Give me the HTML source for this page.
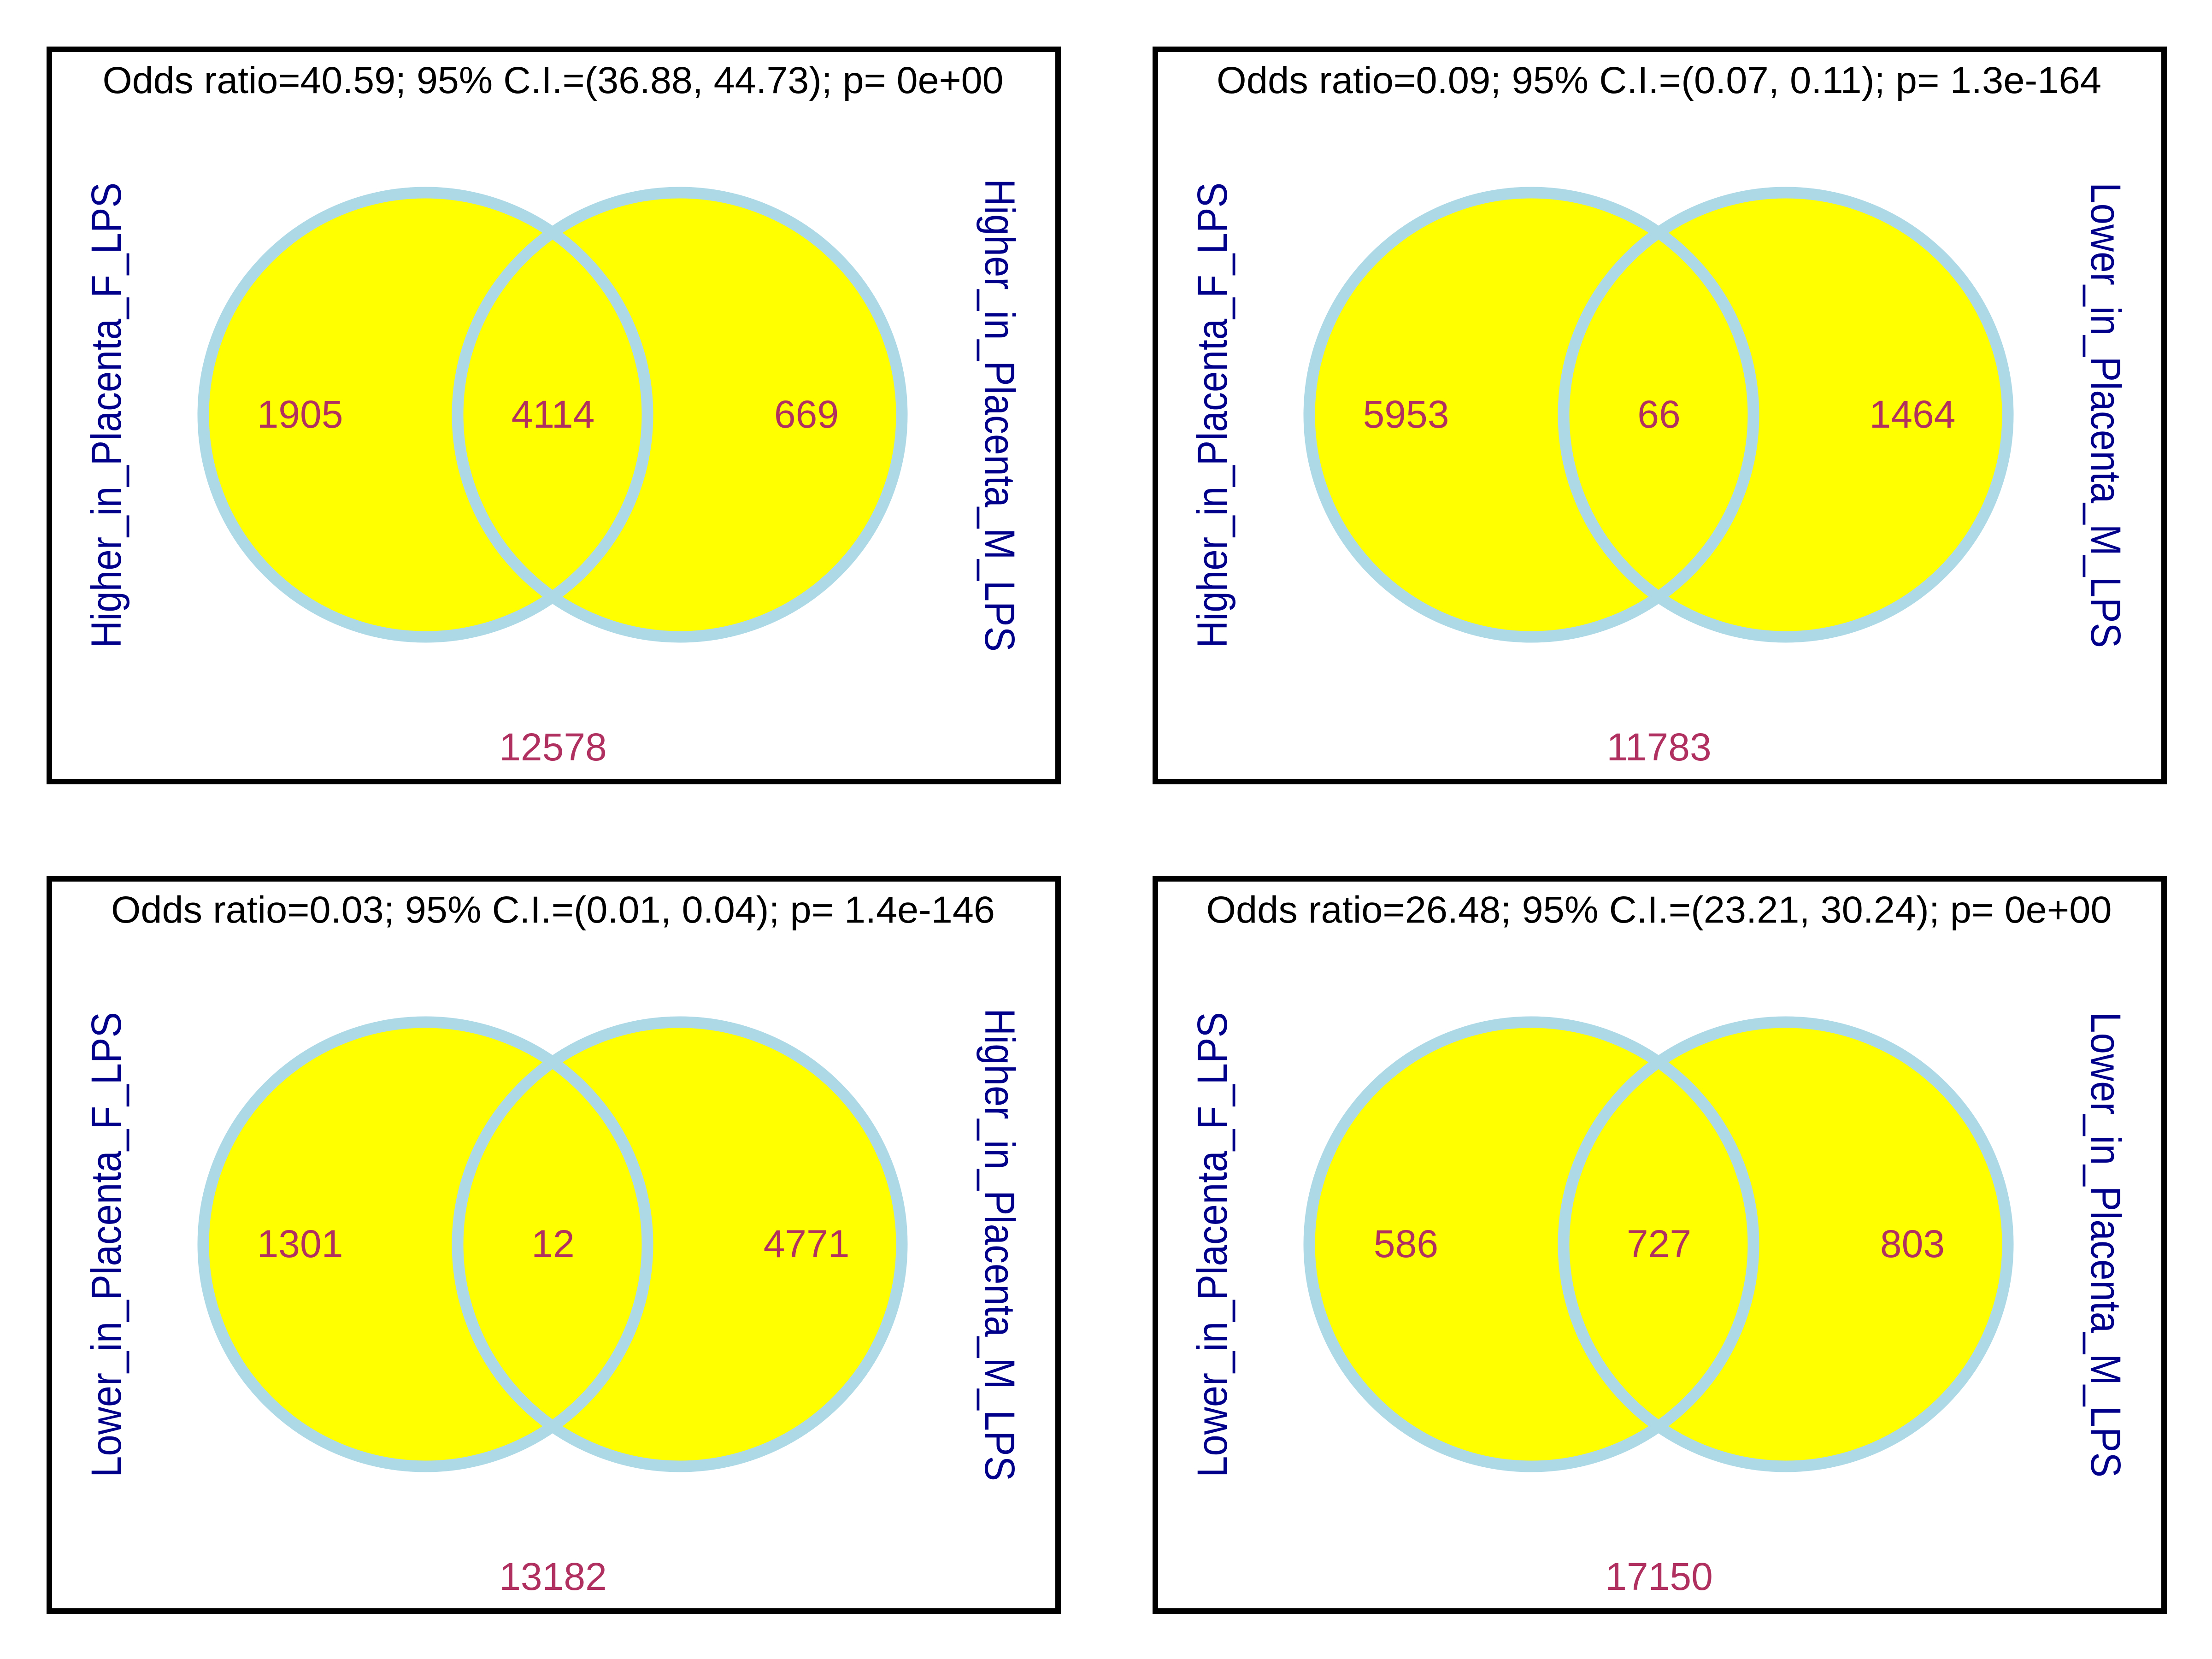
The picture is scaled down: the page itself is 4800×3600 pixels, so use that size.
<!DOCTYPE html>
<html><head><meta charset="utf-8"><style>
html,body{margin:0;padding:0;background:#fff}
svg{display:block}
text{font-family:"Liberation Sans",sans-serif}
</style></head><body>
<svg id="chart" width="4800" height="3600" viewBox="0 0 4800 3600" xmlns="http://www.w3.org/2000/svg"></svg>
<script>
const titles = [
 "Odds ratio=40.59; 95% C.I.=(36.88, 44.73); p= 0e+00",
 "Odds ratio=0.09; 95% C.I.=(0.07, 0.11); p= 1.3e-164",
 "Odds ratio=0.03; 95% C.I.=(0.01, 0.04); p= 1.4e-146",
 "Odds ratio=26.48; 95% C.I.=(23.21, 30.24); p= 0e+00"
];
const titleWidths = [1955, 1920, 1918, 1965];
const leftSets = ["Higher_in_Placenta_F_LPS","Higher_in_Placenta_F_LPS","Lower_in_Placenta_F_LPS","Lower_in_Placenta_F_LPS"];
const rightSets = ["Higher_in_Placenta_M_LPS","Lower_in_Placenta_M_LPS","Higher_in_Placenta_M_LPS","Lower_in_Placenta_M_LPS"];
const leftOnly = [1905, 5953, 1301, 586];
const overlap = [4114, 66, 12, 727];
const rightOnly = [669, 1464, 4771, 803];
const outside = [12578, 11783, 13182, 17150];

const NS = "http://www.w3.org/2000/svg";
const svg = document.getElementById('chart');
function mk(tag, attrs, parent){
  const e = document.createElementNS(NS, tag);
  for (const k in attrs) e.setAttribute(k, attrs[k]);
  parent.appendChild(e); return e;
}
titles.forEach((t, i) => {
  const ox = (i % 2) * 2400, oy = Math.floor(i / 2) * 1800;
  const g = mk('g', {transform: `translate(${ox},${oy})`}, svg);
  
  
  const box = mk('rect', {x:107, y:107, width:2189, height:1589, fill:'#fff', stroke:'#000', 'stroke-width':12}, g);
  
  
  const c1 = mk('circle', {cx:923, cy:900, r:482, fill:'#ffff00'}, g);
  
  
  const c2 = mk('circle', {cx:1475, cy:900, r:482, fill:'#ffff00'}, g);
  
  
  const s1 = mk('circle', {cx:923, cy:900, r:482, fill:'none', stroke:'#add8e6', 'stroke-width':25}, g);
  
  
  const s2 = mk('circle', {cx:1475, cy:900, r:482, fill:'none', stroke:'#add8e6', 'stroke-width':25}, g);
  
  
  const tt = mk('text', {x:1200, y:202, 'text-anchor':'middle', 'font-size':82, fill:'#000', textLength:titleWidths[i], lengthAdjust:'spacingAndGlyphs'}, g);
  tt.textContent = t;
  
  
  const lt = mk('text', {transform:'translate(262,901) rotate(-90)', 'text-anchor':'middle', 'font-size':92, fill:'#00008b', textLength:1010, lengthAdjust:'spacingAndGlyphs'}, g);
  lt.textContent = leftSets[i];
  
  
  const rt = mk('text', {transform:'translate(2138,901) rotate(90)', 'text-anchor':'middle', 'font-size':92, fill:'#00008b', textLength: rightSets[i].startsWith('Higher') ? 1026 : 1010, lengthAdjust:'spacingAndGlyphs'}, g);
  rt.textContent = rightSets[i];
  
  
  const nums = [[leftOnly[i], 651, 928, 'left-only-count'], [overlap[i], 1200, 928, 'overlap-count'], [rightOnly[i], 1750, 928, 'right-only-count'], [outside[i], 1200, 1650, 'outside-count']];
  nums.forEach(n => {
    const e = mk('text', {x:n[1], y:n[2], 'text-anchor':'middle', 'font-size':84, fill:'#b03060'}, g);
    e.textContent = n[0];
    
    
  });
});
</script>
</body></html>
